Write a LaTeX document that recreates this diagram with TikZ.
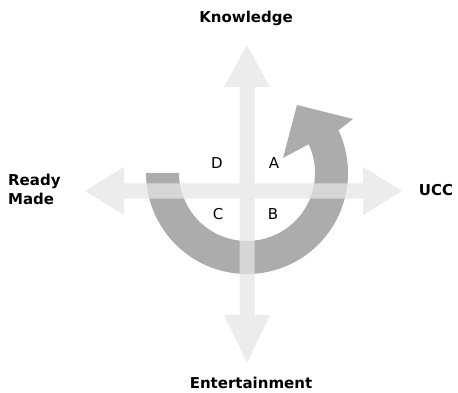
\documentclass[tikz,border=0pt]{standalone}
\usepackage{fontspec}
\setmainfont{DejaVu Sans}
\usepackage{tikz}
\usetikzlibrary{calc}

\begin{document}
\begin{tikzpicture}[
            x=1pt, y=-1pt,
            axis/.style={fill=gray!20, fill opacity=0.75, draw=none},
            turn/.style={fill=gray!65, draw=none},
            pole/.style={font=\bfseries\fontsize{15}{19}\selectfont, align=left, inner sep=0pt},
            quad/.style={font=\fontsize{15}{18}\selectfont, inner sep=0pt}
        ]
        \useasboundingbox (0,0) rectangle (458,393);

        % Turning arrow
        \coordinate (c) at (247,173);
        \fill[turn] ($(c)+(180:101)$) arc[start angle=180, end angle=-25, radius=101]
            -- (353,119) -- (297,105) -- (283,158)
            -- ($(c)+(-25:68)$) arc[start angle=-25, end angle=180, radius=68] -- cycle;

        % Axes
        \fill[axis] (247,45) -- (270,87) -- (254.5,87) -- (254.5,315) -- (270,315) -- (247,363)
            -- (224,315) -- (239.5,315) -- (239.5,87) -- (224,87) -- cycle
            (85,191) -- (124,167) -- (124,183.5) -- (363,183.5) -- (363,167) -- (402,191)
            -- (363,215) -- (363,198.5) -- (124,198.5) -- (124,215) -- cycle;

        % Poles
        \node[pole] (knowledge) at (246,18) {Knowledge};
        \node[pole] (entertainment) at (251,383) {Entertainment};
        \node[pole, anchor=west] (readymade) at (8,189) {Ready\\Made};
        \node[pole] (ucc) at (436,190) {UCC};

        % Quadrants
        \node[quad] (qd) at (217,163) {D};
        \node[quad] (qa) at (274,163) {A};
        \node[quad] (qc) at (218,214) {C};
        \node[quad] (qb) at (273,214) {B};

    \end{tikzpicture}
\end{document}
